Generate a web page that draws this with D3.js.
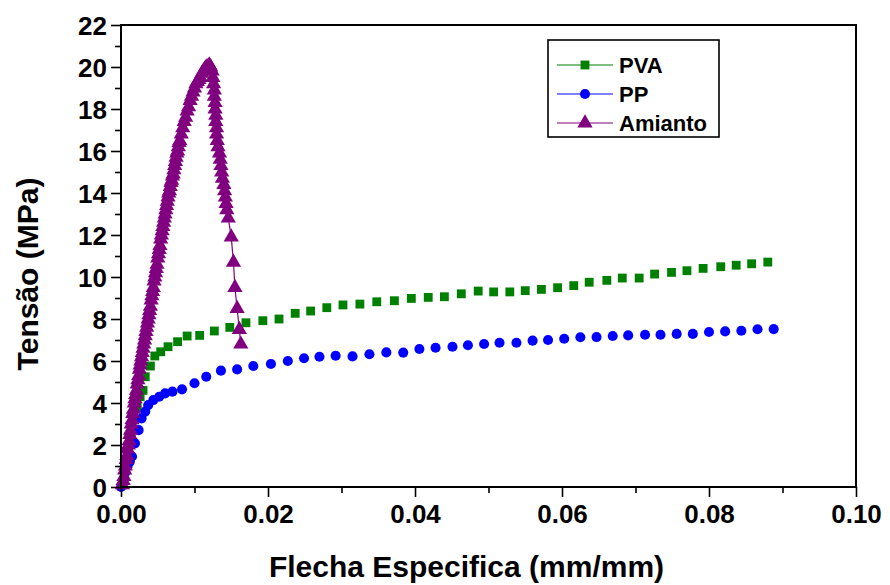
<!DOCTYPE html>
<html>
<head>
<meta charset="utf-8">
<script src="https://cdn.jsdelivr.net/npm/d3@7"></script>
<style>
  body { margin: 0; background: #fff; }
  text { font-family: "Liberation Sans", Arial, sans-serif; font-weight: bold; fill: #000; }
</style>
</head>
<body>
<div id="chart"></div>
<script>
// axis ticks
const xMajor = [0, 0.02, 0.04, 0.06, 0.08, 0.10];
const xMinor = [0.01, 0.03, 0.05, 0.07, 0.09];
const yMajor = [0, 2, 4, 6, 8, 10, 12, 14, 16, 18, 20, 22];
const yMinor = [1, 3, 5, 7, 9, 11, 13, 15, 17, 19, 21];

const seriesNames = ["PVA", "PP", "Amianto"];

// PVA
const pvaX = [0.0002,0.0006,0.0010,0.0014,0.0018,0.0022,0.0026,0.0030,0.0033,0.0040,0.0046,0.0054,0.0064,0.0077,0.0090,0.0107,0.0127,0.0148,0.0170,0.0193,0.0215,0.0237,0.0258,0.0280,0.0302,0.0325,0.0348,0.0372,0.0395,0.0418,0.0440,0.0463,0.0486,0.0507,0.0529,0.0550,0.0572,0.0594,0.0616,0.0637,0.0661,0.0682,0.0705,0.0726,0.0749,0.0770,0.0792,0.0816,0.0837,0.0858,0.0880];
const pvaY = [0.1,0.9,1.7,2.5,3.2,3.8,4.3,4.6,5.25,5.76,6.24,6.44,6.68,6.92,7.19,7.22,7.43,7.60,7.82,7.92,8.0,8.27,8.38,8.54,8.67,8.71,8.82,8.87,8.98,9.03,9.06,9.20,9.33,9.29,9.29,9.35,9.41,9.49,9.59,9.75,9.84,9.95,9.95,10.14,10.22,10.30,10.41,10.49,10.56,10.63,10.71];

// PP
const ppX = [0,0.0003,0.0006,0.0009,0.0012,0.0015,0.0019,0.0024,0.0028,0.0033,0.0037,0.0044,0.0052,0.0060,0.0070,0.0083,0.0100,0.0116,0.0136,0.0158,0.0180,0.0204,0.0227,0.0249,0.0270,0.0292,0.0315,0.0338,0.0361,0.0384,0.0406,0.0428,0.0451,0.0472,0.0494,0.0515,0.0538,0.0560,0.0581,0.0603,0.0625,0.0647,0.0669,0.0690,0.0713,0.0734,0.0756,0.0778,0.0800,0.0822,0.0844,0.0866,0.0888];
const ppY = [0,0.35,0.7,1.0,1.2,1.45,2.08,2.71,3.27,3.59,3.90,4.14,4.30,4.46,4.54,4.65,4.94,5.25,5.54,5.60,5.76,5.86,6.0,6.13,6.2,6.25,6.22,6.32,6.41,6.40,6.57,6.63,6.68,6.75,6.81,6.87,6.87,6.97,7.0,7.06,7.13,7.14,7.19,7.22,7.25,7.25,7.29,7.29,7.38,7.41,7.44,7.51,7.52];

// Amianto (dense loading branch, then post-peak drop)
const amiX = [0.0002,0.0003,0.0004,0.0005,0.0006,0.0007,0.0008,0.0009,0.0010,0.0011,0.0012,0.0013,0.0014,0.0015,0.0016,0.0017,0.0018,0.0019,0.0020,
  0.0021,0.0022,0.0023,0.0024,0.0025,0.0026,0.0027,0.0028,0.0029,0.0030,0.0031,0.0032,0.0033,0.0034,0.0035,0.0036,0.0037,0.0038,0.0039,0.0040,
  0.0041,0.0042,0.0043,0.0044,0.0045,0.0046,0.0047,0.0048,0.0049,0.0050,0.0051,0.0052,0.0053,0.0054,0.0055,0.0056,0.0057,0.0058,0.0059,0.0060,
  0.0061,0.0062,0.0063,0.0064,0.0065,0.0066,0.0067,0.0068,0.0069,0.0070,0.0071,0.0072,0.0073,0.0074,0.0075,0.0076,0.0077,0.0078,0.0079,0.0080,
  0.0082,0.0084,0.0086,0.0088,0.0090,0.0092,0.0094,0.0096,0.0098,0.0100,0.0102,0.0104,0.0106,0.0108,0.0110,0.0112,0.0114,0.0116,0.0118,0.0120,0.0121,
  0.0122,0.0124,0.0125,0.0126,0.0127,0.0127,0.0128,0.0128,0.0129,0.0129,0.0130,0.0130,0.0131,0.0132,0.0134,0.0135,0.0136,0.0137,0.0138,0.0140,0.0141,0.0142,0.0143,0.0144,
  0.0146,0.0150,0.0153,0.0155,0.0158,0.0161,0.0163];
const amiY = [0.1,0.3,0.5,0.8,1.0,1.3,1.5,1.8,2.0,2.2,2.5,2.7,3.0,3.2,3.5,3.7,4.0,4.2,4.4,
  4.6,4.9,5.1,5.3,5.6,5.8,6.0,6.2,6.4,6.6,6.8,7.0,7.2,7.4,7.6,7.8,8.0,8.2,8.4,8.6,
  8.9,9.1,9.3,9.5,9.8,10.0,10.2,10.4,10.6,10.9,11.1,11.3,11.5,11.8,12.0,12.2,12.4,12.6,12.8,13.0,
  13.2,13.4,13.6,13.8,14.0,14.1,14.3,14.5,14.6,14.8,14.9,15.1,15.3,15.5,15.7,15.9,16.0,16.2,16.4,16.5,
  16.8,17.1,17.4,17.6,17.9,18.1,18.4,18.6,18.8,19.0,19.2,19.3,19.4,19.5,19.7,19.8,19.9,20.0,20.0,20.1,20.05,
  20.0,19.8,19.5,19.2,18.9,18.6,18.3,18.0,17.7,17.4,17.1,16.8,16.5,16.2,15.9,15.6,15.3,15.0,14.7,14.4,14.1,13.8,13.5,13.2,
  12.8,11.9,10.7,9.5,8.5,7.5,6.8];

const W = 890, H = 585;
const margin = {left: 121, right: 856, top: 25, bottom: 487};

const svg = d3.select("#chart").append("svg")
    .attr("width", W)
    .attr("height", H);

const x = d3.scaleLinear().domain([0, 0.1]).range([margin.left, margin.right]);
const y = d3.scaleLinear().domain([0, 22]).range([margin.bottom, margin.top]);

// series: colour + marker
const series = [
  {name: seriesNames[0], xs: pvaX, ys: pvaY, color: "#008000", symbol: d3.symbolSquare, size: 78, line: false},
  {name: seriesNames[1], xs: ppX, ys: ppY, color: "#0000ff", symbol: d3.symbolCircle, size: 80, line: false},
  {name: seriesNames[2], xs: amiX, ys: amiY, color: "#800080", symbol: d3.symbolTriangle, size: 100, line: true}
];

const plot = svg.append("g");

series.forEach(s => {
  const pts = s.xs.map((v, i) => [v, s.ys[i]]);
  if (s.line) {
    plot.append("path")
      .attr("d", d3.line().x(d => x(d[0])).y(d => y(d[1]))(pts))
      .attr("fill", "none")
      .attr("stroke", s.color)
      .attr("stroke-width", 1.2);
  }
  plot.selectAll(null)
    .data(pts)
    .enter().append("path")
      .attr("transform", d => "translate(" + x(d[0]) + "," + y(d[1]) + ")")
      .attr("d", d3.symbol().type(s.symbol).size(s.size))
      .attr("fill", s.color);
});

// axes: major ticks with labels, minor ticks without
const gx = svg.append("g").attr("transform", "translate(0," + margin.bottom + ")");
gx.call(d3.axisBottom(x).tickValues(xMajor).tickSize(10).tickSizeOuter(0).tickPadding(8)
    .tickFormat(d3.format(".2f")));
gx.append("g").call(d3.axisBottom(x).tickValues(xMinor).tickSize(6).tickSizeOuter(0).tickFormat(""));

const gy = svg.append("g").attr("transform", "translate(" + margin.left + ",0)");
gy.call(d3.axisLeft(y).tickValues(yMajor).tickSize(10).tickSizeOuter(0).tickPadding(4));
gy.append("g").call(d3.axisLeft(y).tickValues(yMinor).tickSize(6).tickSizeOuter(0).tickFormat(""));

svg.selectAll(".domain").remove();
svg.selectAll(".tick line").attr("stroke", "#000").attr("stroke-width", 1.6);
gx.selectAll(".tick text").style("font-size", "26px").attr("fill", "#000");
gy.selectAll(".tick text").style("font-size", "26px").attr("fill", "#000").attr("dy", "0.35em");

// frame
svg.append("rect")
  .attr("x", margin.left).attr("y", margin.top)
  .attr("width", margin.right - margin.left).attr("height", margin.bottom - margin.top)
  .attr("fill", "none")
  .attr("stroke", "#000")
  .attr("stroke-width", 2);

// axis titles
svg.append("text")
  .attr("x", (margin.left + margin.right) / 2 - 22)
  .attr("y", 577)
  .attr("text-anchor", "middle")
  .style("font-size", "30px")
  .text("Flecha Especifica (mm/mm)");

svg.append("text")
  .attr("transform", "translate(38,274) rotate(-90)")
  .attr("text-anchor", "middle")
  .style("font-size", "30px")
  .text("Tensão (MPa)");

// legend
const legend = svg.append("g");
legend.append("rect")
  .attr("x", 548).attr("y", 40)
  .attr("width", 171).attr("height", 97)
  .attr("fill", "#fff")
  .attr("stroke", "#000")
  .attr("stroke-width", 1.6);

const rows = legend.selectAll(".row")
  .data(series)
  .enter().append("g")
    .attr("class", "row")
    .attr("transform", (d, i) => "translate(0," + (65 + i * 29) + ")");

rows.append("line")
  .attr("x1", 557).attr("x2", 613)
  .attr("stroke", d => d.color)
  .attr("stroke-width", 1.2);

rows.append("path")
  .attr("transform", "translate(585,0)")
  .attr("d", d => d3.symbol().type(d.symbol).size(d.size)())
  .attr("fill", d => d.color);

rows.append("text")
  .attr("x", 619)
  .attr("dy", "0.36em")
  .style("font-size", "22px")
  .text(d => d.name);
</script>
</body>
</html>
